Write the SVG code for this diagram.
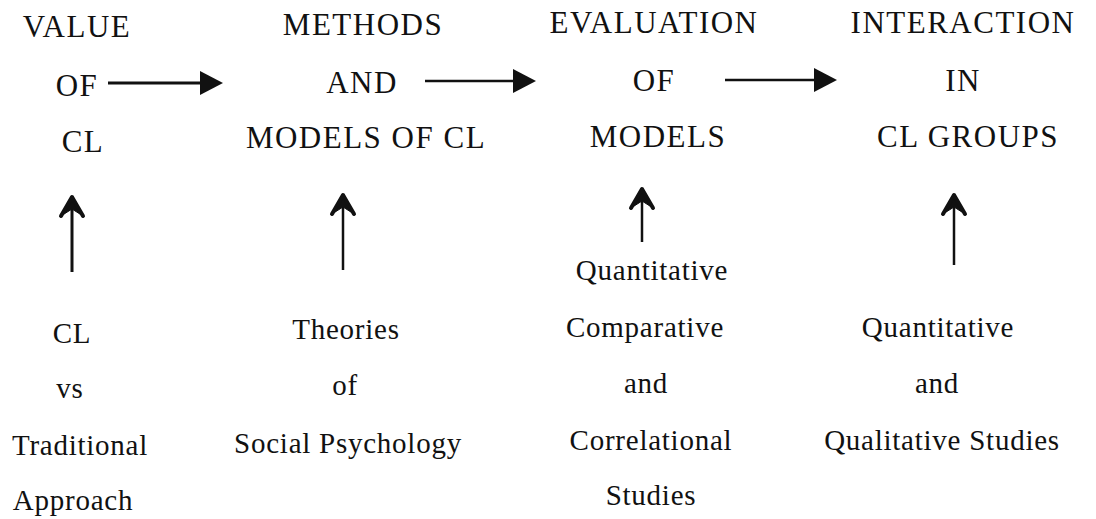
<svg xmlns="http://www.w3.org/2000/svg" width="1096" height="519" viewBox="0 0 1096 519">
<style>
text{font-family:"Liberation Serif","Times New Roman",serif;fill:#111;text-anchor:middle}
.h{font-size:31px;letter-spacing:1.5px}
.s{font-size:29px;letter-spacing:0.75px}
.ln{stroke:#111;fill:none}
</style>
<defs>
<marker id="solid" markerUnits="userSpaceOnUse" markerWidth="30" markerHeight="30" refX="0" refY="12" orient="auto" overflow="visible">
<path d="M0,0 L23,12 L0,24 Z" fill="#111"/>
</marker>
<marker id="chev" markerUnits="userSpaceOnUse" markerWidth="30" markerHeight="30" refX="0" refY="0" orient="auto" overflow="visible">
<path d="M-20,-11 L0,0 L-20,11 L-13,0 Z" fill="#111" stroke="#111" stroke-width="1"/>
<path d="M-20,-11 L-1,0 L-20,11" fill="none" stroke="#111" stroke-width="4" stroke-linejoin="round" stroke-linecap="round"/>
</marker>
</defs>
<g id="value-of-cl">
<text class="h" x="77" y="37">VALUE</text>
<text class="h" x="77" y="96">OF</text>
<text class="h" x="83" y="152">CL</text>
</g>
<g id="methods-models">
<text class="h" x="363" y="35">METHODS</text>
<text class="h" x="362" y="93">AND</text>
<text class="h" x="366" y="148">MODELS OF CL</text>
</g>
<g id="evaluation-models">
<text class="h" x="654" y="33">EVALUATION</text>
<text class="h" x="654" y="91">OF</text>
<text class="h" x="658" y="147">MODELS</text>
</g>
<g id="interaction-groups">
<text class="h" x="963" y="33">INTERACTION</text>
<text class="h" x="963" y="91">IN</text>
<text class="h" x="968" y="147">CL GROUPS</text>
</g>
<g id="cl-vs-traditional">
<text class="s" x="72" y="343">CL</text>
<text class="s" x="70" y="398">vs</text>
<text class="s" x="80" y="455">Traditional</text>
<text class="s" x="73" y="510">Approach</text>
</g>
<g id="theories-social-psychology">
<text class="s" x="346" y="339">Theories</text>
<text class="s" x="345" y="395">of</text>
<text class="s" x="348" y="453">Social Psychology</text>
</g>
<g id="quantitative-comparative">
<text class="s" x="652" y="280">Quantitative</text>
<text class="s" x="645" y="337">Comparative</text>
<text class="s" x="646" y="393">and</text>
<text class="s" x="651" y="450">Correlational</text>
<text class="s" x="651" y="505">Studies</text>
</g>
<g id="quantitative-qualitative">
<text class="s" x="938" y="337">Quantitative</text>
<text class="s" x="937" y="393">and</text>
<text class="s" x="942" y="450">Qualitative Studies</text>
</g>
<g id="connectors">
<line class="ln" x1="108" y1="83" x2="200" y2="83" stroke-width="3" marker-end="url(#solid)"/>
<line class="ln" x1="425" y1="81" x2="513" y2="81" stroke-width="2.5" marker-end="url(#solid)"/>
<line class="ln" x1="725" y1="80" x2="814" y2="80" stroke-width="2.5" marker-end="url(#solid)"/>
<line class="ln" x1="72" y1="272" x2="72" y2="196" stroke-width="3" marker-end="url(#chev)"/>
<line class="ln" x1="343" y1="270" x2="343" y2="194" stroke-width="2.5" marker-end="url(#chev)"/>
<line class="ln" x1="642" y1="242" x2="642" y2="188" stroke-width="2.5" marker-end="url(#chev)"/>
<line class="ln" x1="954" y1="265" x2="954" y2="194" stroke-width="2.5" marker-end="url(#chev)"/>
</g>
</svg>
